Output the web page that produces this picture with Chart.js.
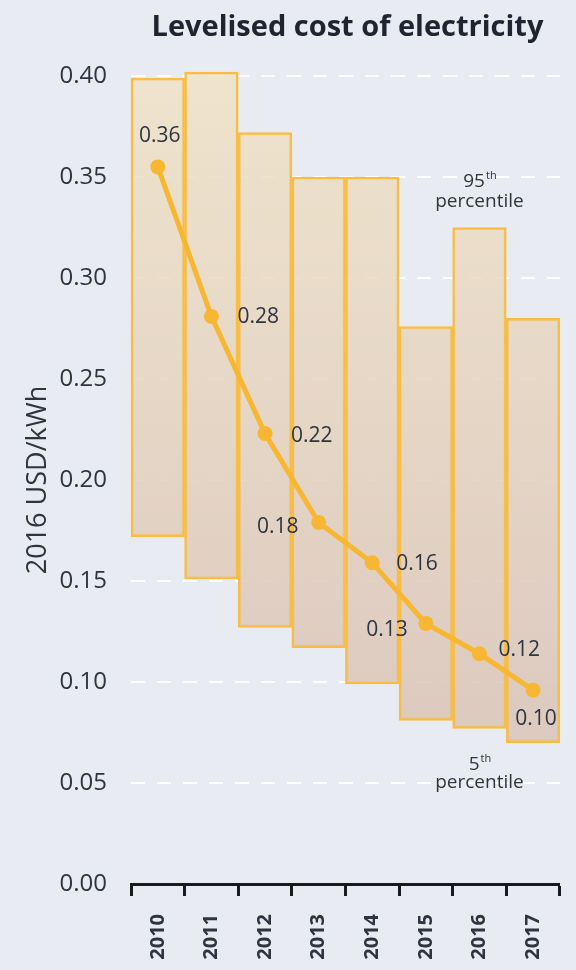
<!DOCTYPE html>
<html>
<head>
<meta charset="utf-8">
<script src="https://cdn.jsdelivr.net/npm/chart.js@4/dist/chart.umd.min.js"></script>
<style>
  html, body { margin: 0; padding: 0; background: #e8ebf1; }
  #wrap { width: 576px; height: 970px; position: relative; }
</style>
</head>
<body>
<div id="wrap"><canvas id="c" width="576" height="970"></canvas></div>
<script>
const years = ['2010','2011','2012','2013','2014','2015','2016','2017'];
const p95 = [0.399, 0.402, 0.372, 0.350, 0.350, 0.276, 0.325, 0.280];
const p5  = [0.172, 0.151, 0.127, 0.117, 0.099, 0.081, 0.077, 0.070];
const avg = [0.355, 0.281, 0.223, 0.179, 0.159, 0.129, 0.114, 0.096];
const avgLabels = ['0.36','0.28','0.22','0.18','0.16','0.13','0.12','0.10'];
const yTicks = [0, 0.05, 0.10, 0.15, 0.20, 0.25, 0.30, 0.35, 0.40];

const FONT = "'Open Sans', 'Liberation Sans', sans-serif";
const TEXT = '#2e3440';
const ORANGE = '#f7b733';

// label placements (offsets in px relative to point) — style only
const labelPos = [
  {dx: 2, dy: -31, align: 'center'},
  {dx: 26, dy: 1, align: 'left'},
  {dx: 26, dy: 2, align: 'left'},
  {dx: -20, dy: 5, align: 'right'},
  {dx: 24, dy: 1, align: 'left'},
  {dx: -18, dy: 7, align: 'right'},
  {dx: 19, dy: -4, align: 'left'},
  {dx: 3, dy: 29, align: 'center'}
];

const bgPlugin = {
  id: 'bg',
  beforeDraw(chart) {
    const ctx = chart.ctx;
    ctx.save();
    ctx.fillStyle = '#e8ebf1';
    ctx.fillRect(0, 0, chart.width, chart.height);
    ctx.restore();
  }
};

const annoPlugin = {
  id: 'anno',
  afterDraw(chart) {
    const ctx = chart.ctx;
    const area = chart.chartArea;
    ctx.save();
    // title
    ctx.fillStyle = '#1f2430';
    ctx.font = "bold 29px " + FONT;
    ctx.textAlign = 'center';
    ctx.textBaseline = 'middle';
    ctx.fillText('Levelised cost of electricity', (area.left + area.right) / 2 + 2, 28);

    // value labels
    const meta = chart.getDatasetMeta(1);
    ctx.font = "21px " + FONT;
    ctx.fillStyle = TEXT;
    meta.data.forEach((pt, i) => {
      const lp = labelPos[i];
      ctx.textAlign = lp.align;
      ctx.fillText(avgLabels[i], pt.x + lp.dx, pt.y + lp.dy);
    });

    // percentile annotations
    const xs = chart.scales.x;
    const cx = xs.getPixelForValue(6);
    const drawSup = (base, sup, x, y) => {
      ctx.font = "19px " + FONT;
      const w1 = ctx.measureText(base).width;
      ctx.font = "11px " + FONT;
      const w2 = ctx.measureText(sup).width;
      const start = x - (w1 + w2) / 2;
      ctx.textAlign = 'left';
      ctx.font = "19px " + FONT;
      ctx.fillText(base, start, y);
      ctx.font = "11px " + FONT;
      ctx.fillText(sup, start + w1 + 1, y - 6);
    };
    ctx.fillStyle = TEXT;
    drawSup('95', 'th', cx, 182);
    ctx.font = "19px " + FONT;
    ctx.textAlign = 'center';
    ctx.fillText('percentile', cx, 202);
    drawSup('5', 'th', cx, 765);
    ctx.font = "19px " + FONT;
    ctx.textAlign = 'center';
    ctx.fillText('percentile', cx, 783);
    ctx.restore();
  }
};

const ctx = document.getElementById('c').getContext('2d');
function barGradient(context) {
  const chart = context.chart;
  const area = chart.chartArea;
  if (!area) return 'rgba(236,222,200,0.85)';
  const g = chart.ctx.createLinearGradient(0, area.top, 0, area.top + 0.84 * (area.bottom - area.top));
  g.addColorStop(0, 'rgba(240,226,198,0.85)');
  g.addColorStop(1, 'rgba(218,196,184,0.88)');
  return g;
}

new Chart(ctx, {
  type: 'bar',
  data: {
    labels: years,
    datasets: [
      {
        type: 'bar',
        label: '5th-95th percentile',
        data: years.map((y, i) => [p5[i], p95[i]]),
        backgroundColor: barGradient,
        borderColor: '#f8bd44',
        borderWidth: 2.5,
        borderSkipped: false,
        barPercentage: 1.0,
        categoryPercentage: 1.0,
        order: 2,
        clip: false
      },
      {
        type: 'line',
        label: 'Weighted average',
        data: avg,
        borderColor: ORANGE,
        backgroundColor: ORANGE,
        borderWidth: 5,
        pointRadius: 7.5,
        pointBackgroundColor: ORANGE,
        pointBorderWidth: 0,
        tension: 0,
        order: 1
      }
    ]
  },
  options: {
    responsive: false,
    animation: false,
    devicePixelRatio: 1,
    layout: { padding: { top: 76, right: 15, left: 0, bottom: 0 } },
    plugins: {
      legend: { display: false },
      tooltip: { enabled: false },
      title: { display: false }
    },
    scales: {
      x: {
        offset: true,
        grid: {
          display: true,
          offset: true,
          drawOnChartArea: false,
          drawTicks: true,
          tickLength: 12,
          tickWidth: 3,
          tickColor: '#1a1a1a'
        },
        border: { display: true, color: '#1a1a1a', width: 3 },
        ticks: {
          color: TEXT,
          font: { family: FONT, size: 20, weight: 'bold' },
          minRotation: 90,
          maxRotation: 90,
          padding: 18,
          autoSkip: false
        },
        afterFit(s) { s.height = 86; }
      },
      y: {
        min: 0,
        max: 0.40,
        afterBuildTicks(s) { s.ticks = yTicks.map(v => ({ value: v })); },
        grid: {
          color: 'rgba(255,255,255,0.95)',
          lineWidth: 2,
          drawTicks: false
        },
        border: { display: false, dash: [14, 12] },
        ticks: {
          color: TEXT,
          font: { family: FONT, size: 24 },
          padding: 24,
          callback: (v) => Number(v).toFixed(2)
        },
        title: {
          display: true,
          text: '2016 USD/kWh',
          color: TEXT,
          font: { family: FONT, size: 27 },
          padding: { top: 22, bottom: 0 }
        },
        afterFit(s) { s.width = 131; }
      }
    }
  },
  plugins: [bgPlugin, annoPlugin]
});
</script>
</body>
</html>
